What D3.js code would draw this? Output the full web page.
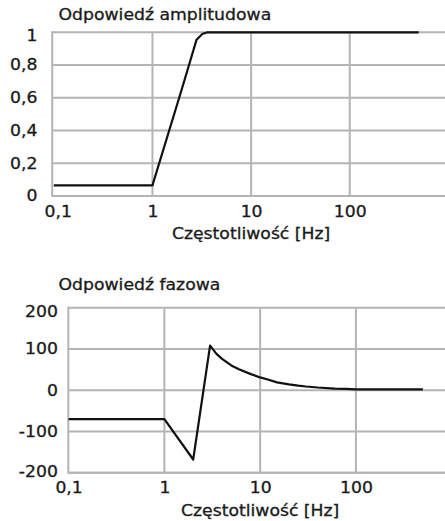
<!DOCTYPE html>
<html>
<head>
<meta charset="utf-8">
<script src="https://cdn.jsdelivr.net/npm/d3@7"></script>
<style>
  html, body { margin: 0; padding: 0; background: #fff; }
  svg { display: block; }
  svg text { stroke: #1a1a1a; stroke-width: 0.3px; }
</style>
</head>
<body>
<svg id="chart" width="445" height="521"></svg>
<script>
// Frequency response of the filter: amplitude and phase vs. frequency
const xTicks = [0.1, 1, 10, 100];
const xGrid = [1, 10, 100, 1000];

const ampFreq = [0.1, 1, 2, 2.8, 3.2, 3.6, 500];
const ampValues = [0.065, 0.065, 0.66, 0.955, 0.99, 1.0, 1.0];
const ampTicks = [0, 0.2, 0.4, 0.6, 0.8, 1];

const phaseFreq = [0.1, 1, 2, 3, 3.5, 4, 5, 6, 8, 10, 12, 15, 20, 25, 30, 40, 60, 80, 100, 500];
const phaseValues = [-70, -70, -168, 108, 88, 76, 60, 51, 39, 31, 26, 19, 14, 11, 9, 6.5, 4, 3, 2, 2];
const phaseTicks = [-200, -100, 0, 100, 200];

const titles = ["Odpowiedź amplitudowa", "Odpowiedź fazowa"];
const xLabel = "Częstotliwość [Hz]";

const FONT = "DejaVu Sans";
const FS = 15;
const SX = 1.15;          // horizontal stretch of the lettering
const TEXT = "#1a1a1a";
const GRID = "#b4b4b4";

const pl = d3.formatLocale({ decimal: ",", thousands: " ", grouping: [3], currency: ["", " zł"], minus: "-" });
const fmt = pl.format("~g");

const svg = d3.select("#chart");

function stretch(sel) {
  sel.each(function () {
    const t = d3.select(this);
    const ax = +t.attr("x") || 0;
    t.attr("transform", `translate(${ax * (1 - SX)},0) scale(${SX},1)`);
  });
}

function panel(cfg) {
  const g = svg.append("g");
  const x = d3.scaleLog().domain([0.1, 1000]).range(cfg.xRange);
  const y = d3.scaleLinear().domain(cfg.yDomain).range(cfg.yRange);
  const left = x.range()[0] - cfg.frameOffset;
  const bottom = y.range()[0];

  // horizontal grid
  g.append("g").selectAll("line").data(cfg.yTicks).join("line")
    .attr("x1", left).attr("x2", 460)
    .attr("y1", d => y(d)).attr("y2", d => y(d))
    .attr("stroke", GRID).attr("stroke-width", 2);
  // vertical grid
  g.append("g").selectAll("line").data(xGrid).join("line")
    .attr("x1", d => x(d)).attr("x2", d => x(d))
    .attr("y1", y.range()[1]).attr("y2", bottom)
    .attr("stroke", GRID).attr("stroke-width", 2);
  // frame: left and bottom edges
  g.append("line").attr("x1", left).attr("x2", left)
    .attr("y1", y.range()[1] - 1).attr("y2", bottom + 1)
    .attr("stroke", GRID).attr("stroke-width", 2);
  g.append("line").attr("x1", left).attr("x2", 460)
    .attr("y1", bottom).attr("y2", bottom)
    .attr("stroke", GRID).attr("stroke-width", 2);

  // data line
  const pts = cfg.freq.map((f, i) => [f, cfg.values[i]]);
  g.append("path").datum(pts)
    .attr("fill", "none").attr("stroke", "#111").attr("stroke-width", 2.2)
    .attr("stroke-linejoin", "round")
    .attr("d", d3.line().x(d => x(d[0])).y(d => y(d[1])));

  // axes
  const xa = g.append("g").attr("transform", `translate(0,${bottom})`)
    .call(d3.axisBottom(x).tickValues(xTicks).tickSize(0).tickPadding(10).tickFormat(fmt));
  xa.select(".domain").remove();
  xa.attr("font-family", FONT).attr("font-size", FS);
  xa.selectAll("text").attr("fill", TEXT).call(stretch);
  if (cfg.firstXShift) {
    xa.selectAll("text").filter(d => d === 0.1).attr("dx", cfg.firstXShift / SX);
  }

  const ya = g.append("g").attr("transform", `translate(${left},0)`)
    .call(d3.axisLeft(y).tickValues(cfg.yTicks).tickSize(0).tickPadding(cfg.yPad).tickFormat(fmt));
  ya.select(".domain").remove();
  ya.attr("font-family", FONT).attr("font-size", FS);
  ya.selectAll("text").attr("fill", TEXT).call(stretch);
  const top = cfg.yDomain[1], low = cfg.yDomain[0];
  ya.selectAll("text").filter(d => d === top).attr("y", cfg.topShift).attr("dy", "0.32em");
  ya.selectAll("text").filter(d => d === low).attr("y", cfg.lowShift).attr("dy", "0.32em");

  // title
  svg.append("text").attr("x", 58.5).attr("y", cfg.titleY)
    .attr("font-family", FONT).attr("font-size", FS).attr("fill", TEXT)
    .text(cfg.title).call(stretch);
  // x axis label
  svg.append("text").attr("x", x(10)).attr("y", bottom + 43.3)
    .attr("text-anchor", "middle")
    .attr("font-family", FONT).attr("font-size", FS).attr("fill", TEXT)
    .text(xLabel).call(stretch);
}

panel({
  title: titles[0], titleY: 19.7,
  xRange: [53.8, 448.4], frameOffset: 1.6,
  yDomain: [0, 1], yRange: [196, 32.3], yTicks: ampTicks, yPad: 14.8,
  freq: ampFreq, values: ampValues,
  firstXShift: 4, topShift: 3, lowShift: -0.3
});

panel({
  title: titles[1], titleY: 290.5,
  xRange: [68.6, 451.7], frameOffset: 0.3,
  yDomain: [-200, 200], yRange: [472.7, 307.7], yTicks: phaseTicks, yPad: 10.3,
  freq: phaseFreq, values: phaseValues,
  firstXShift: 0, topShift: 4, lowShift: -1
});
</script>
</body>
</html>
